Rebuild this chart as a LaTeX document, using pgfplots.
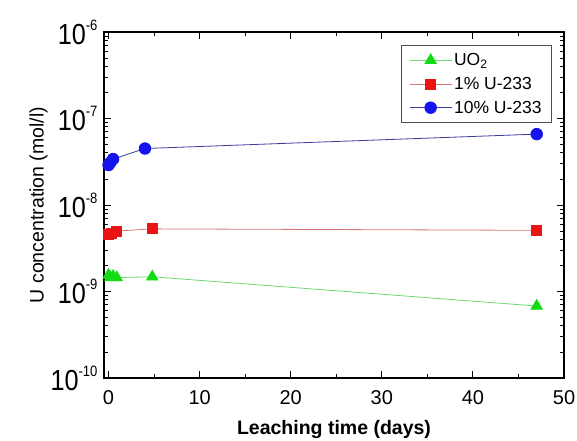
\documentclass[border=0pt]{standalone}
\usepackage{fontspec}
\setmainfont{Liberation Sans}
\newfontfamily\ytfont{Liberation Sans}[FakeStretch=0.87]
\usepackage{pgfplots}
\pgfplotsset{compat=1.18}
\definecolor{mgreen}{RGB}{20,220,20}
\definecolor{lgreen}{RGB}{110,215,110}
\definecolor{mred}{RGB}{235,20,20}
\definecolor{lred}{RGB}{215,120,120}
\definecolor{mblue}{RGB}{20,20,235}
\definecolor{lblue}{RGB}{60,60,160}
\newcommand\ytl[1]{10\raisebox{0.48em}{\fontsize{15}{15}\selectfont #1}}
\begin{document}
\begin{tikzpicture}
\begin{axis}[name=ax, scale only axis, width=460pt, height=346pt,
  ymode=log, xmin=-0.5, xmax=50, ymin=1e-10, ymax=1e-6,
  xtick={0,10,20,30,40,50}, minor xtick={5,15,25,35,45},
  ytick={1e-10,1e-9,1e-8,1e-7,1e-6},
  yticklabels={\ytl{-10},\ytl{-9},\ytl{-8},\ytl{-7},\ytl{-6}},
  /pgf/number format/assume math mode=true,
  tick align=inside, axis line style={line width=1.2pt}, 
  major tick length=7pt, minor tick length=4pt,
  every tick/.style={line width=0.9pt,black},
  yticklabel style={font=\ytfont\fontsize{29}{30}\selectfont, xshift=-3pt},
  xticklabel style={font=\fontsize{20}{22}\selectfont, yshift=-9pt},
  xlabel={\bfseries Leaching time (days)},
  ylabel={U concentration (mol/l)},
  xlabel style={font=\fontsize{19.5}{21}\selectfont, yshift=-9pt},
  ylabel style={font=\fontsize{19.5}{21}\selectfont, yshift=-4pt},
  legend style={at={(1,1)}, xshift=-12pt, yshift=-13pt, anchor=north east, font=\fontsize{17.5}{19}\selectfont, draw=black!70, line width=0.8pt, row sep=6pt, inner xsep=8pt, inner ysep=6pt},
  legend image code/.code={\draw[mark repeat=2,mark phase=2,#1] plot coordinates {(0pt,0pt) (21pt,0pt) (42pt,0pt)};},
  legend cell align=left,
]
\addplot[color=lgreen, line width=0.8pt, mark=triangle*, mark size=6.5pt, mark options={draw=mgreen, fill=mgreen}] coordinates {
 (0,1.55e-9) (0.2,1.45e-9) (0.5,1.5e-9) (0.9,1.45e-9) (4.8,1.48e-9) (47,6.8e-10)};
\addlegendentry{UO\textsubscript{2}}
\addplot[color=lred, line width=0.8pt, mark=square*, mark size=5pt, mark options={draw=mred, fill=mred}] coordinates {
 (0,4.6e-9) (0.3,4.7e-9) (0.9,5.0e-9) (4.8,5.3e-9) (47,5.1e-9)};
\addlegendentry{1\% U-233}
\addplot[color=lblue, line width=0.8pt, mark=*, mark size=5.8pt, mark options={draw=mblue, fill=mblue}] coordinates {
 (0,2.9e-8) (0.2,3.1e-8) (0.5,3.4e-8) (4.0,4.5e-8) (47,6.6e-8)};
\addlegendentry{10\% U-233}
\end{axis}
\pgfresetboundingbox
\path ([shift={(-104pt,-62pt)}]ax.south west) rectangle ([shift={(13pt,32pt)}]ax.north east);
\end{tikzpicture}
\end{document}
